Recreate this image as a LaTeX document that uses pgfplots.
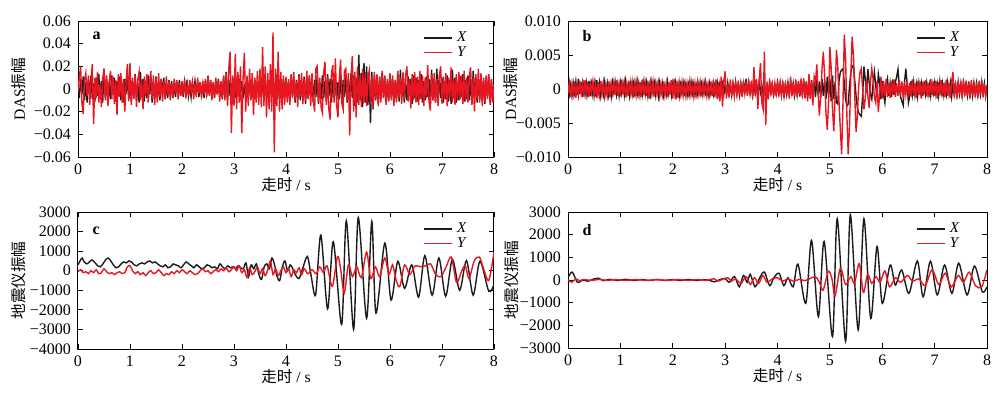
\documentclass[border=0pt]{standalone}
\usepackage{fontspec}
\setmainfont{Liberation Serif}
\newfontfamily\cjk{Noto Sans CJK SC}
\usepackage{pgfplots}
\usepackage{pgfplotstable}
\pgfplotsset{compat=1.18}
\definecolor{myred}{RGB}{232,22,32}
\definecolor{myblack}{RGB}{28,28,28}

% panel a: DAS amplitude in units of 1e-3
\pgfplotstableread{
t x y
0.000 3 -2
0.025 -8 10
0.050 9 20
0.075 -5 -12
0.100 11 -22
0.125 -10 8
0.150 6 14
0.175 -12 -6
0.200 8 12
0.225 -4 -14
0.250 12 6
0.275 -9 22
0.300 5 -31
0.325 -11 10
0.350 10 -8
0.375 -6 15
0.400 13 -12
0.425 -8 4
0.450 7 -16
0.475 -12 9
0.500 18 18
0.525 -7 -10
0.550 9 12
0.575 -13 -15
0.600 6 7
0.625 -9 16
0.650 12 -9
0.675 -5 11
0.700 10 -13
0.725 -11 8
0.750 7 -23
0.775 -6 13
0.800 11 -7
0.825 -10 14
0.850 5 -12
0.875 -12 9
0.900 9 -20
0.925 -4 6
0.950 12 22
0.975 -9 -11
1.000 8 23
1.025 -11 -14
1.050 6 10
1.075 -7 -9
1.100 13 12
1.125 -10 -16
1.150 5 8
1.175 -12 15
1.200 15 -10
1.225 -6 7
1.250 9 -18
1.275 -11 11
1.300 7 -6
1.325 -8 13
1.350 12 -12
1.375 -5 5
1.400 10 16
1.425 -12 -9
1.450 6 12
1.475 -9 -14
1.500 11 10
1.525 -8 -12
1.550 6 14
1.575 -10 -7
1.600 9 9
1.625 -5 -11
1.650 10 6
1.675 -9 -8
1.700 5 11
1.725 -8 -5
1.750 8 7
1.775 -6 -10
1.800 7 5
1.825 -8 -7
1.850 4 9
1.875 -7 -4
1.900 6 8
1.925 -5 -9
1.950 8 5
1.975 -6 -6
2.000 5 7
2.025 -7 -5
2.050 6 9
2.075 -4 -8
2.100 8 4
2.125 -6 -6
2.150 3 8
2.175 -7 -3
2.200 6 6
2.225 -5 -9
2.250 7 5
2.275 -3 -7
2.300 5 10
2.325 -7 -4
2.350 6 6
2.375 -5 -8
2.400 4 7
2.425 -8 -5
2.450 7 9
2.475 -4 -7
2.500 6 12
2.525 -5 -6
2.550 8 8
2.575 -6 -10
2.600 5 6
2.625 -8 -7
2.650 7 10
2.675 -4 -5
2.700 9 8
2.725 -7 -11
2.750 6 7
2.775 -9 -8
2.800 11 12
2.825 -8 -10
2.850 15 14
2.875 -10 -15
2.900 8 18
2.925 -6 33
2.950 5 -39
2.975 -7 12
3.000 6 -15
3.025 -8 31
3.050 5 -18
3.075 -6 15
3.100 9 -12
3.125 -4 20
3.150 7 -39
3.175 -8 10
3.200 4 32
3.225 -7 -20
3.250 8 12
3.275 -5 -15
3.300 6 18
3.325 -9 -10
3.350 5 14
3.375 -6 -23
3.400 8 10
3.425 -4 -12
3.450 7 16
3.475 -8 -14
3.500 5 18
3.525 -7 -16
3.550 6 37
3.575 -5 -15
3.600 8 20
3.625 -6 -25
3.650 4 14
3.675 -8 -18
3.700 7 22
3.725 -5 -20
3.750 6 50
3.775 -7 -56
3.800 5 18
3.825 -6 -15
3.850 8 33
3.875 -9 -20
3.900 6 15
3.925 -7 -18
3.950 9 12
3.975 -5 -14
4.000 10 11
4.025 -8 -12
4.050 7 9
4.075 -11 -14
4.100 12 13
4.125 -6 -8
4.150 9 15
4.175 -12 -10
4.200 8 7
4.225 -7 -16
4.250 13 12
4.275 -10 -6
4.300 6 14
4.325 -9 -13
4.350 11 9
4.375 -13 -11
4.400 7 16
4.425 -8 -9
4.450 12 12
4.475 -6 -15
4.500 9 14
4.525 -12 -10
4.550 8 -20
4.575 -7 18
4.600 11 20
4.625 -13 -12
4.650 6 10
4.675 -9 -16
4.700 12 -21
4.725 -8 15
4.750 7 24
4.775 -11 -14
4.800 13 11
4.825 -6 -18
4.850 9 -27
4.875 -12 14
4.900 8 21
4.925 -7 -12
4.950 11 27
4.975 -10 -15
5.000 6 -25
5.025 -9 10
5.050 12 26
5.075 -11 -13
5.100 8 -18
5.125 -7 16
5.150 13 18
5.175 -12 -10
5.200 9 14
5.225 -10 -41
5.250 14 10
5.275 -8 29
5.300 12 -20
5.325 -15 15
5.350 10 -25
5.375 -12 20
5.400 30 -14
5.425 -10 12
5.450 14 -16
5.475 -16 18
5.500 23 -12
5.525 -12 14
5.550 20 -15
5.575 -14 9
5.600 10 16
5.625 -30 -13
5.650 15 11
5.675 -18 -17
5.700 12 15
5.725 -10 -9
5.750 9 13
5.775 -13 -15
5.800 11 10
5.825 -9 -12
5.850 14 16
5.875 -8 -8
5.900 10 12
5.925 -12 -14
5.950 7 9
5.975 -10 -11
6.000 12 14
6.025 -7 -10
6.050 9 12
6.075 -12 -15
6.100 6 8
6.125 -9 -12
6.150 13 16
6.175 -11 -8
6.200 17 10
6.225 -8 -13
6.250 10 15
6.275 -12 -9
6.300 7 12
6.325 -10 20
6.350 11 -11
6.375 -6 9
6.400 9 -17
6.425 -13 13
6.450 12 -10
6.475 -8 15
6.500 10 -12
6.525 -11 11
6.550 8 -14
6.575 -9 16
6.600 13 -9
6.625 -12 12
6.650 7 -15
6.675 -10 10
6.700 11 -8
6.725 -7 21
6.750 9 -11
6.775 -13 -19
6.800 17 13
6.825 -10 -10
6.850 8 14
6.875 -12 -12
6.900 18 9
6.925 -9 -15
6.950 11 12
6.975 -8 20
7.000 10 -13
7.025 -12 11
7.050 7 -9
7.075 -9 14
7.100 12 -15
7.125 -11 10
7.150 8 -8
7.175 -13 19
7.200 17 -12
7.225 -8 9
7.250 10 -14
7.275 -12 13
7.300 6 -10
7.325 -10 15
7.350 11 -9
7.375 -7 12
7.400 13 -13
7.425 -11 16
7.450 8 -11
7.475 -9 10
7.500 12 -12
7.525 -10 11
7.550 9 19
7.575 -13 -14
7.600 16 10
7.625 -8 -20
7.650 11 13
7.675 -12 -9
7.700 7 18
7.725 -9 -12
7.750 12 14
7.775 -11 -15
7.800 8 10
7.825 -13 -11
7.850 10 12
7.875 -7 -9
7.900 11 13
7.925 -12 -14
7.950 8 9
7.975 -10 -12
8.000 5 4
}\tabA

% panel b: DAS amplitude in units of 1e-4
\pgfplotstableread{
t x y
0.000 4 -6
0.025 -8 9
0.050 6 -12
0.075 -10 7
0.100 9 -8
0.125 -5 11
0.150 11 -13
0.175 -9 6
0.200 15 -9
0.225 -7 12
0.250 10 -6
0.275 -12 9
0.300 6 -11
0.325 -8 13
0.350 9 -7
0.375 -6 10
0.400 12 -12
0.425 -10 8
0.450 7 -5
0.475 -9 11
0.500 8 -10
0.525 -11 7
0.550 13 -13
0.575 -6 10
0.600 9 -8
0.625 -10 12
0.650 5 -7
0.675 -8 9
0.700 10 -11
0.725 -7 6
0.750 8 -9
0.775 -9 11
0.800 6 -12
0.825 -11 8
0.850 9 -6
0.875 -5 10
0.900 10 -9
0.925 -8 13
0.950 7 -10
0.975 -10 7
1.000 9 -11
1.025 -6 14
1.050 8 -8
1.075 -9 9
1.100 11 -12
1.125 -7 7
1.150 6 -10
1.175 -10 12
1.200 9 -6
1.225 -8 10
1.250 7 -13
1.275 -11 8
1.300 10 -9
1.325 -6 11
1.350 8 -7
1.375 -9 10
1.400 6 -12
1.425 -8 14
1.450 11 -9
1.475 -7 8
1.500 9 -10
1.525 -10 12
1.550 6 -14
1.575 -8 9
1.600 10 -7
1.625 -6 10
1.650 8 -11
1.675 -9 8
1.700 7 -6
1.725 -10 9
1.750 9 -10
1.775 -6 7
1.800 8 -8
1.825 -9 11
1.850 5 -9
1.875 -8 8
1.900 10 -12
1.925 -7 10
1.950 6 -8
1.975 -9 13
2.000 8 -14
2.025 -6 15
2.050 9 -15
2.075 -8 12
2.100 7 -13
2.125 -10 9
2.150 6 -7
2.175 -7 10
2.200 9 -9
2.225 -5 7
2.250 8 -10
2.275 -9 8
2.300 6 -6
2.325 -8 11
2.350 10 -8
2.375 -6 7
2.400 7 -10
2.425 -9 9
2.450 5 -7
2.475 -7 10
2.500 8 -8
2.525 -6 9
2.550 7 -11
2.575 -8 8
2.600 9 -6
2.625 -5 10
2.650 6 -9
2.675 -9 7
2.700 8 -8
2.725 -6 11
2.750 7 -10
2.775 -8 8
2.800 5 -12
2.825 -7 14
2.850 9 -15
2.875 -6 10
2.900 8 -18
2.925 -5 18
2.950 7 -26
2.975 -8 12
3.000 6 26
3.025 -7 -14
3.050 9 8
3.075 -8 -12
3.100 6 14
3.125 -9 -10
3.150 8 7
3.175 -5 -11
3.200 10 9
3.225 -7 -8
3.250 6 12
3.275 -9 -9
3.300 8 10
3.325 -10 -12
3.350 12 8
3.375 -6 -7
3.400 15 11
3.425 -8 -10
3.450 9 14
3.475 -7 -9
3.500 6 12
3.525 -9 -15
3.550 8 32
3.575 -6 -10
3.600 7 15
3.625 -8 -29
3.650 10 12
3.675 -5 38
3.700 6 -20
3.725 -7 -30
3.750 8 55
3.775 -9 -53
3.800 6 10
3.825 -8 -15
3.850 9 14
3.875 -6 -9
3.900 7 11
3.925 -8 -12
3.950 5 8
3.975 -7 -10
4.000 9 13
4.025 -6 -11
4.050 8 9
4.075 -9 -8
4.100 7 12
4.125 -10 -13
4.150 6 10
4.175 -8 -9
4.200 9 11
4.225 -7 -14
4.250 10 18
4.275 -6 -10
4.300 8 9
4.325 -9 -12
4.350 7 14
4.375 -8 -11
4.400 10 12
4.425 -11 -9
4.450 9 15
4.475 -7 -13
4.500 12 16
4.525 -9 -14
4.550 11 10
4.575 -12 -18
4.600 8 22
4.625 -10 -15
4.650 13 12
4.675 -8 -24
4.700 10 18
4.725 -12 10
4.750 14 36
4.775 -9 -5
4.800 11 -39
4.825 -13 -10
4.850 15 30
4.875 -10 55
4.900 12 20
4.925 -15 -35
4.950 18 -60
4.975 -12 -20
5.000 15 62
5.025 -18 30
5.050 20 -30
5.075 -15 -62
5.100 10 -10
5.125 -20 57
5.150 -22 35
5.175 12 -20
5.200 25 -60
5.225 28 -96
5.250 30 -20
5.275 10 80
5.300 -15 45
5.325 -25 -40
5.350 -22 -96
5.375 5 -55
5.400 25 20
5.425 33 77
5.450 35 50
5.475 12 -10
5.500 -10 -63
5.525 -28 -40
5.550 -35 5
5.575 -38 25
5.600 -40 30
5.625 -10 0
5.650 33 -30
5.675 15 -15
5.700 -5 15
5.725 29 -10
5.750 10 -28
5.775 -8 10
5.800 -15 30
5.825 8 15
5.850 25 -12
5.875 5 -20
5.900 -12 12
5.925 22 -34
5.950 10 -8
5.975 -15 18
6.000 12 -14
6.025 -8 12
6.050 -20 -10
6.075 5 15
6.100 15 -12
6.125 -10 9
6.150 8 -13
6.175 -12 11
6.200 14 -8
6.225 -9 14
6.250 10 -12
6.275 18 9
6.300 29 -10
6.325 5 13
6.350 -12 -9
6.375 -18 11
6.400 -24 -14
6.425 10 10
6.450 30 -8
6.475 8 12
6.500 -20 -12
6.525 -10 9
6.550 12 -11
6.575 -8 14
6.600 10 -10
6.625 -9 8
6.650 7 -13
6.675 -11 12
6.700 9 -9
6.725 -6 11
6.750 8 -14
6.775 -10 10
6.800 11 -8
6.825 -7 13
6.850 9 -11
6.875 -8 9
6.900 6 -12
6.925 -10 15
6.950 8 -9
6.975 -6 11
7.000 9 -10
7.025 -8 12
7.050 7 -14
7.075 -10 10
7.100 11 -9
7.125 -6 13
7.150 8 -11
7.175 -9 9
7.200 6 -12
7.225 -8 14
7.250 10 -10
7.275 -7 8
7.300 9 -13
7.325 -11 11
7.350 7 25
7.375 -8 -12
7.400 6 10
7.425 -9 -14
7.450 10 12
7.475 -7 -9
7.500 8 11
7.525 -10 -13
7.550 9 14
7.575 -6 -10
7.600 7 12
7.625 -9 -11
7.650 11 9
7.675 -8 -14
7.700 6 13
7.725 -10 -9
7.750 9 11
7.775 -7 -12
7.800 8 10
7.825 -9 -13
7.850 6 12
7.875 -8 -8
7.900 10 11
7.925 -7 -12
7.950 8 9
7.975 -9 -10
8.000 4 6
}\tabB

% panel c
\pgfplotstableread{
t v
0.00 300
0.05 550
0.08 650
0.12 450
0.17 350
0.22 450
0.27 550
0.33 400
0.38 250
0.43 200
0.48 350
0.53 550
0.58 650
0.63 500
0.68 300
0.73 150
0.78 200
0.83 350
0.88 450
0.93 400
0.98 500
1.03 450
1.08 300
1.13 250
1.18 350
1.23 400
1.28 350
1.33 450
1.38 500
1.43 400
1.48 450
1.53 350
1.58 250
1.63 200
1.68 300
1.73 150
1.78 200
1.83 350
1.88 300
1.93 250
1.98 150
2.03 300
2.08 450
2.13 350
2.18 250
2.23 150
2.28 300
2.33 200
2.38 100
2.43 150
2.48 300
2.53 250
2.58 150
2.63 200
2.68 100
2.73 350
2.78 200
2.83 100
2.88 250
2.93 150
2.98 200
3.03 100
3.08 250
3.13 150
3.18 100
3.23 400
3.28 -300
3.33 300
3.38 100
3.43 350
3.48 -200
3.53 -450
3.58 200
3.63 350
3.68 100
3.73 650
3.78 300
3.83 -300
3.88 -500
3.93 200
3.98 500
4.03 0
4.08 300
4.13 100
4.18 -200
4.25 -400
4.32 100
4.41 730
4.48 -200
4.57 -1230
4.67 1820
4.80 -1950
4.91 1480
5.07 -2750
5.16 2550
5.30 -3000
5.39 2720
5.55 -2430
5.65 2520
5.73 -2170
5.90 1410
6.02 -1500
6.15 480
6.28 -900
6.42 300
6.55 -1350
6.67 770
6.81 -1250
6.94 650
7.07 -1300
7.20 580
7.34 -1000
7.47 520
7.60 -1250
7.73 480
7.90 -1050
8.00 -700
}\tabCX

\pgfplotstableread{
t v
0.00 -50
0.05 50
0.10 -100
0.15 -50
0.20 -150
0.25 0
0.30 -100
0.35 50
0.40 -150
0.45 -100
0.50 100
0.55 -50
0.60 -150
0.65 -100
0.70 -200
0.75 -100
0.80 -50
0.85 -150
0.90 -100
0.95 200
1.00 250
1.05 0
1.10 -150
1.15 -50
1.20 -200
1.25 -100
1.30 -250
1.35 -100
1.40 0
1.45 -150
1.50 -100
1.55 50
1.60 -100
1.65 -250
1.70 -150
1.75 -200
1.80 -50
1.85 -150
1.90 0
1.95 -100
2.00 50
2.05 -50
2.10 -150
2.15 0
2.20 -100
2.25 -200
2.30 -150
2.35 0
2.40 100
2.45 -50
2.50 0
2.55 -150
2.60 -50
2.65 50
2.70 -50
2.75 100
2.80 0
2.85 150
2.90 -50
2.95 50
3.00 200
3.05 0
3.10 250
3.15 -100
3.20 50
3.25 -350
3.30 150
3.35 -200
3.40 -50
3.45 200
3.50 -150
3.55 100
3.60 -250
3.65 50
3.70 500
3.75 -200
3.80 100
3.85 -250
3.90 0
3.95 200
4.00 -100
4.05 100
4.10 -300
4.15 50
4.20 -100
4.25 150
4.30 -200
4.35 100
4.42 -150
4.50 50
4.58 -150
4.65 200
4.72 -100
4.79 250
4.89 -800
4.99 720
5.05 100
5.12 -1150
5.20 300
5.28 -300
5.36 200
5.45 -350
5.55 950
5.63 -400
5.72 200
5.80 -300
5.90 650
5.98 -200
6.05 300
6.12 -500
6.19 -800
6.28 300
6.38 -200
6.48 250
6.58 200
6.68 250
6.78 350
6.88 -200
6.98 -300
7.08 200
7.18 700
7.28 -600
7.38 0
7.45 250
7.52 -400
7.62 500
7.72 700
7.80 100
7.90 -500
8.00 950
}\tabCY

% panel d
\pgfplotstableread{
t v
0.00 100
0.08 350
0.18 -100
0.28 0
0.38 -50
0.50 50
0.58 80
0.68 -30
0.80 30
0.95 -20
1.10 30
1.25 -20
1.40 20
1.55 -20
1.70 20
1.85 -20
2.00 20
2.15 -20
2.30 20
2.45 -20
2.60 20
2.72 -30
2.80 -80
2.90 20
3.00 60
3.08 -100
3.18 150
3.27 -300
3.35 200
3.42 -100
3.48 250
3.57 -300
3.66 100
3.75 350
3.85 -250
3.93 100
4.03 300
4.12 -250
4.20 100
4.30 -300
4.39 700
4.54 -1030
4.65 1750
4.78 -1620
4.89 1700
5.05 -2500
5.14 2700
5.30 -2700
5.39 2880
5.54 -2200
5.65 2700
5.78 -1700
5.90 1480
6.00 -1030
6.15 660
6.25 -220
6.37 440
6.51 -590
6.67 840
6.78 -740
6.92 830
7.05 -660
7.19 660
7.33 -590
7.46 740
7.62 -660
7.76 620
7.91 -520
8.00 -300
}\tabDX

\pgfplotstableread{
t v
0.00 0
0.07 -100
0.15 50
0.22 -30
0.30 20
0.45 -20
0.60 30
0.75 -20
0.90 20
1.10 -20
1.30 20
1.50 -20
1.70 20
1.90 -20
2.10 20
2.30 -20
2.50 20
2.65 -20
2.78 60
2.86 -50
2.95 30
3.05 100
3.12 -50
3.20 50
3.30 -150
3.40 150
3.48 -200
3.56 100
3.64 -150
3.72 200
3.80 -100
3.90 50
4.00 100
4.10 -50
4.20 50
4.30 -50
4.42 30
4.52 -30
4.62 60
4.72 150
4.80 -100
4.87 -450
4.97 380
5.04 50
5.10 -700
5.20 520
5.30 -200
5.40 150
5.47 -150
5.56 720
5.64 -550
5.72 250
5.80 -150
5.88 150
5.96 -100
6.05 400
6.14 -300
6.25 100
6.35 -100
6.48 200
6.58 -50
6.70 50
6.82 -250
6.95 450
7.08 -200
7.20 300
7.32 -300
7.45 200
7.55 -100
7.66 350
7.78 -250
7.90 -300
8.00 450
}\tabDY

\pgfplotsset{
  panel/.style={
    scale only axis, width=208pt, height=68pt,
    xmin=0, xmax=8, xtick={0,1,2,3,4,5,6,7,8},
    xticklabels={0,1,2,3,4,5,6,7,8},
    tick align=inside, major tick length=2.5pt,
    tick style={black, line width=0.4pt},
    axis line style={black, line width=0.5pt},
    ticklabel style={font=\fontsize{8}{9}\selectfont},
    xlabel={{\cjk 走时} / s},
    every axis x label/.style={at={(axis description cs:0.5,0)}, anchor=center, yshift=-14pt, font=\fontsize{7.8}{8}\selectfont},
    every axis y label/.style={at={(axis description cs:-0.142,0.5)}, anchor=center, rotate=90, font=\fontsize{7.8}{8}\selectfont},
    legend style={at={(rel axis cs:0.945,0.955)}, anchor=north east, draw=none, fill=none,
      font=\fontsize{7.5}{8}\selectfont, row sep=-3pt, inner sep=0pt},
    legend cell align=left,
    legend image code/.code={\draw[#1, line width=0.6pt] (0pt,0pt) -- (14pt,0pt);},
    every axis plot/.append style={line width=0.7pt},
  }
}

\begin{document}
\begin{tikzpicture}
\path[use as bounding box] (0,0) rectangle (500pt,-196pt);

% a
\begin{axis}[panel, at={(39pt,-10.5pt)}, anchor=north west,
  ymin=-60, ymax=60, ytick={-60,-40,-20,0,20,40,60},
  yticklabels={−0.06,−0.04,−0.02,0,0.02,0.04,0.06},
  ylabel={DAS{\cjk 振幅}}]
\addplot[myblack] table[x=t,y=x] {\tabA};
\addplot[myred] table[x=t,y=y] {\tabA};
\legend{\textit{X},\textit{Y}}
\node[anchor=west, font=\fontsize{8}{9}\selectfont\bfseries] at (rel axis cs:0.018,0.89) {a};
\end{axis}

% b
\begin{axis}[panel, width=209.5pt, at={(284pt,-10.5pt)}, anchor=north west,
  ymin=-100, ymax=100, ytick={-100,-50,0,50,100},
  yticklabels={−0.010,−0.005,0,0.005,0.010},
  ylabel={DAS{\cjk 振幅}},
  every axis y label/.style={at={(axis description cs:-0.138,0.5)}, anchor=center, rotate=90, font=\fontsize{7.8}{8}\selectfont}]
\addplot[myblack] table[x=t,y=x] {\tabB};
\addplot[myred] table[x=t,y=y] {\tabB};
\legend{\textit{X},\textit{Y}}
\node[anchor=west, font=\fontsize{8}{9}\selectfont\bfseries] at (rel axis cs:0.018,0.89) {b};
\end{axis}

% c
\begin{axis}[panel, height=68.5pt, at={(39pt,-106pt)}, anchor=north west,
  ymin=-4000, ymax=3000, ytick={-4000,-3000,-2000,-1000,0,1000,2000,3000},
  yticklabels={−4000,−3000,−2000,−1000,0,1000,2000,3000},
  ylabel={{\cjk 地震仪振幅}}]
\addplot[myblack, smooth, tension=0.5] table[x=t,y=v] {\tabCX};
\addplot[myred, smooth, tension=0.5] table[x=t,y=v] {\tabCY};
\legend{\textit{X},\textit{Y}}
\node[anchor=west, font=\fontsize{8}{9}\selectfont\bfseries] at (rel axis cs:0.018,0.86) {c};
\end{axis}

% d
\begin{axis}[panel, width=209.5pt, at={(284pt,-106pt)}, anchor=north west,
  ymin=-3000, ymax=3000, ytick={-3000,-2000,-1000,0,1000,2000,3000},
  yticklabels={−3000,−2000,−1000,0,1000,2000,3000},
  ylabel={{\cjk 地震仪振幅}},
  every axis y label/.style={at={(axis description cs:-0.134,0.5)}, anchor=center, rotate=90, font=\fontsize{7.8}{8}\selectfont}]
\addplot[myblack, smooth, tension=0.5] table[x=t,y=v] {\tabDX};
\addplot[myred, smooth, tension=0.5] table[x=t,y=v] {\tabDY};
\legend{\textit{X},\textit{Y}}
\node[anchor=west, font=\fontsize{8}{9}\selectfont\bfseries] at (rel axis cs:0.018,0.87) {d};
\end{axis}
\end{tikzpicture}
\end{document}
